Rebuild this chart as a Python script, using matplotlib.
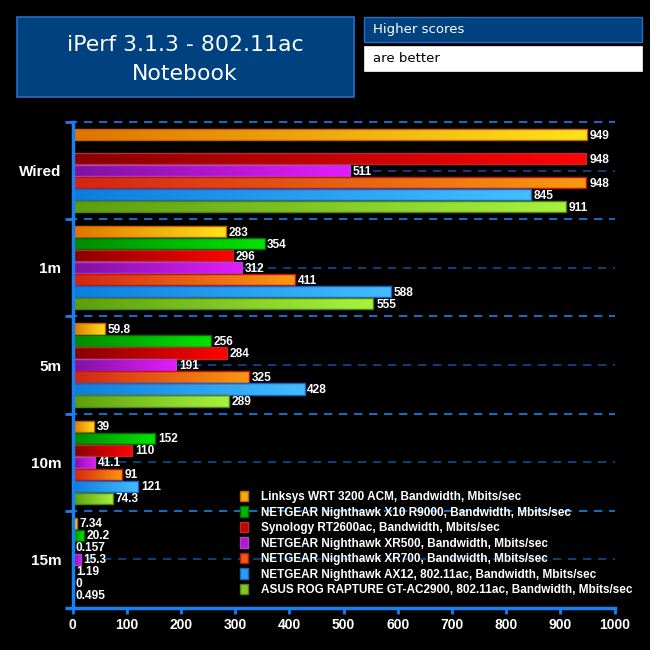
import matplotlib
matplotlib.use("Agg")
import matplotlib.pyplot as plt
import matplotlib.patches as patches
from matplotlib.colors import LinearSegmentedColormap, to_rgb
import numpy as np

# dane
categories = ["Wired", "1m", "5m", "10m", "15m"]
series_names = [
    "Linksys WRT 3200 ACM, Bandwidth, Mbits/sec",
    "NETGEAR Nighthawk X10 R9000, Bandwidth, Mbits/sec",
    "Synology RT2600ac, Bandwidth, Mbits/sec",
    "NETGEAR Nighthawk XR500, Bandwidth, Mbits/sec",
    "NETGEAR Nighthawk XR700, Bandwidth, Mbits/sec",
    "NETGEAR Nighthawk AX12, 802.11ac, Bandwidth, Mbits/sec",
    "ASUS ROG RAPTURE GT-AC2900, 802.11ac, Bandwidth, Mbits/sec",
]
linksys = [949, 283, 59.8, 39, 7.34]
netgear_x10 = [None, 354, 256, 152, 20.2]
synology = [948, 296, 284, 110, 0.157]
xr500 = [511, 312, 191, 41.1, 15.3]
xr700 = [948, 411, 325, 91, 1.19]
ax12 = [845, 588, 428, 121, 0]
asus = [911, 555, 289, 74.3, 0.495]
series_values = [linksys, netgear_x10, synology, xr500, xr700, ax12, asus]

x_ticks = list(range(0, 1001, 100))

# kolory: (lewy koniec gradientu, prawy koniec, obramowanie)
colors = [
    ("#e07400", "#ffe21c", "#c86400"),
    ("#008a00", "#00e400", "#006a00"),
    ("#880000", "#ff0404", "#c02828"),
    ("#7e12a0", "#e41cff", "#a848c8"),
    ("#d42414", "#fa9810", "#c01414"),
    ("#0e7ede", "#44bcff", "#1666c8"),
    ("#5c9e0e", "#a8f23e", "#4e8410"),
]

fig = plt.figure(figsize=(6.5, 6.5), dpi=100, facecolor="black")
ax = fig.add_axes([0.1118, 0.0646, 0.8338, 0.7477], facecolor="black")

pitch = 0.1235
height = 0.116
n = len(series_values)
bold_font = ["Liberation Sans", "DejaVu Sans"]

for j, vals in enumerate(series_values):
    c_left, c_right, c_edge = colors[j]
    cmap = LinearSegmentedColormap.from_list("g%d" % j, [c_left, c_right])
    ys = [i + (j - (n - 1) / 2) * pitch for i in range(len(categories))]
    for y, v in zip(ys, vals):
        if v is None:
            continue
        bar = ax.barh(y, v, height=height, color="none", edgecolor=c_edge,
                      linewidth=1.0, zorder=3)[0]
        if v > 0:
            grad = np.linspace(0, 1, 64).reshape(1, -1)
            img = ax.imshow(grad, cmap=cmap, aspect="auto", zorder=2,
                            extent=[0, v, y + height / 2, y - height / 2],
                            interpolation="bicubic")
            img.set_clip_path(bar)
        ax.text(v + 5, y + 0.01, "%g" % v, color="white", fontsize=8.6,
                fontweight="bold", family=bold_font, va="center", ha="left",
                zorder=5)

ax.set_xlim(0, 1000)
ax.set_ylim(len(categories) - 0.5, -0.5)

# linie siatki: granice grup i środki grup
for b in np.arange(-0.5, len(categories), 1.0):
    ax.axhline(b, xmin=-0.006, color="#1a7ff0", lw=1.2, ls=(0, (5, 4)),
               zorder=1, clip_on=False)
for i in range(len(categories)):
    ax.axhline(i, color="#0c4c94", lw=1.2, ls=(0, (5, 4)), zorder=1)

for s in ["top", "right"]:
    ax.spines[s].set_visible(False)
ax.spines["left"].set_color("#1a7ff0")
ax.spines["left"].set_linewidth(2.5)
ax.spines["left"].set_zorder(6)
ax.spines["bottom"].set_color("#1a7ff0")
ax.spines["bottom"].set_linewidth(2.5)
ax.spines["bottom"].set_bounds(-10, 1000)

ax.set_xticks(x_ticks)
ax.set_xticklabels([str(t) for t in x_ticks], fontweight="bold",
                   fontsize=10, family=bold_font, color="white")
ax.tick_params(axis="x", colors="#1a7ff0", labelcolor="white", direction="out",
               length=4, width=2, pad=3)

ax.set_yticks(range(len(categories)))
ax.set_yticklabels(categories, fontweight="bold", fontsize=11,
                   family=bold_font, color="white")
ax.set_yticks(np.arange(-0.5, len(categories), 1.0), minor=True)
ax.tick_params(axis="y", which="major", length=0, pad=8, labelcolor="white")
ax.tick_params(axis="y", which="minor", length=6, width=2, color="#1a7ff0",
               direction="out")


def mid_color(c1, c2):
    a, b = np.array(to_rgb(c1)), np.array(to_rgb(c2))
    return tuple((a + b) / 2)


# legenda
handles = [patches.Patch(facecolor=mid_color(colors[j][0], colors[j][1]),
                         edgecolor=colors[j][2], lw=1.0)
           for j in range(n)]
leg = fig.legend(handles, series_names, loc="upper left",
                 bbox_to_anchor=(0.369, 0.245), frameon=False,
                 handlelength=0.72, handleheight=1.0, handletextpad=1.1,
                 labelspacing=0.27, borderaxespad=0, borderpad=0,
                 prop={"family": bold_font, "weight": "bold", "size": 8.5})
for t in leg.get_texts():
    t.set_color("white")

# ramki z tytułem
title_box = patches.Rectangle((17 / 650, 1 - 96.5 / 650), 337 / 650, 80 / 650,
                              transform=fig.transFigure, facecolor="#00427f",
                              edgecolor="#2a6cc0", lw=1.2)
fig.add_artist(title_box)
fig.text(185 / 650, 1 - 45 / 650, "iPerf 3.1.3 - 802.11ac", color="white",
         fontsize=15.8, ha="center", va="center", family=["DejaVu Sans"])
fig.text(185 / 650, 1 - 74 / 650, "Notebook", color="white",
         fontsize=15.8, ha="center", va="center", family=["DejaVu Sans"])

hs_box = patches.Rectangle((364 / 650, 1 - 41.5 / 650), 278 / 650, 25 / 650,
                           transform=fig.transFigure, facecolor="#00427f",
                           edgecolor="#2a6cc0", lw=1.0)
fig.add_artist(hs_box)
fig.text(373 / 650, 1 - 29.5 / 650, "Higher scores", color="white",
         fontsize=9.5, va="center", ha="left")
ab_box = patches.Rectangle((364 / 650, 1 - 70.5 / 650), 278 / 650, 25 / 650,
                           transform=fig.transFigure, facecolor="white",
                           edgecolor="white", lw=0.5)
fig.add_artist(ab_box)
fig.text(373 / 650, 1 - 58.5 / 650, "are better", color="black",
         fontsize=9.5, va="center", ha="left")

fig.savefig("out.png", dpi=100, facecolor="black")
